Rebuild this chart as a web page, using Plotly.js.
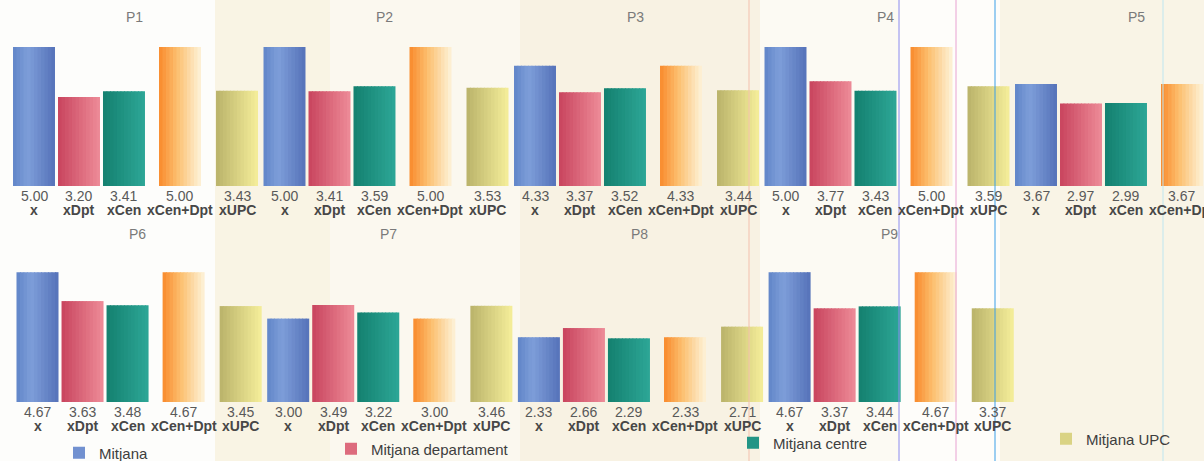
<!DOCTYPE html>
<html><head><meta charset="utf-8">
<script src="https://cdn.plot.ly/plotly-3.0.1.min.js"></script>
<style>html,body{margin:0;padding:0;background:#fbf9f2;overflow:hidden}</style>
</head><body><div id="chart" style="width:1204px;height:461px"></div>
<script>
// ---------- data ----------
const panels = ['P1','P2','P3','P4','P5','P6','P7','P8','P9'];
const barLabels = ['x','xDpt','xCen','xCen+Dpt','xUPC'];
const seriesNames = ['Mitjana','Mitjana departament','Mitjana centre','Mitjana centre+departament','Mitjana UPC'];
const mitjana       = [5.00,5.00,4.33,5.00,3.67,4.67,3.00,2.33,4.67];
const mitjanaDpt    = [3.20,3.41,3.37,3.77,2.97,3.63,3.49,2.66,3.37];
const mitjanaCen    = [3.41,3.59,3.52,3.43,2.99,3.48,3.22,2.29,3.44];
const mitjanaCenDpt = [5.00,5.00,4.33,5.00,3.67,4.67,3.00,2.33,4.67];
const mitjanaUPC    = [3.43,3.53,3.44,3.59,null,3.45,3.46,2.71,3.37];
const topRow = [0,1,2,3,4];
const bottomRow = [5,6,7,8];

// ---------- style / layout constants ----------
const series = [mitjana, mitjanaDpt, mitjanaCen, mitjanaCenDpt, mitjanaUPC];
const inLegend = ['legend','legend2','legend3',null,'legend4'];
const STOPS = [
  [[0,'#6085c8'],[0.35,'#7e9ed9'],[1,'#5572b9']],
  [[0,'#c8445e'],[1,'#ee8c98']],
  [[0,'#14806f'],[1,'#2da797']],
  [[0,'#f98a2c'],[0.45,'#fcc172'],[1,'#fdf3da']],
  [[0,'#b9b26a'],[1,'#f5ee9a']]
];
const PERIOD = 5;
const SLOT = [0, 0.898, 1.796, 2.914, 4.052];
const BARW = 0.838;
const NS = 12;
const FONT = 'Liberation Sans, Arial, sans-serif';

function hex2rgb(h){return [parseInt(h.slice(1,3),16),parseInt(h.slice(3,5),16),parseInt(h.slice(5,7),16)];}
function colorAt(stops,t){
  for(let i=0;i<stops.length-1;i++){
    const [t0,c0]=stops[i],[t1,c1]=stops[i+1];
    if(t>=t0&&t<=t1){
      const f=(t-t0)/(t1-t0||1),a=hex2rgb(c0),b=hex2rgb(c1);
      return 'rgb('+a.map((v,k)=>Math.round(v+(b[k]-v)*f)).join(',')+')';
    }
  }
  return stops[stops.length-1][1];
}

const traces=[];
const annotations=[];
const rows=[{idx:topRow,xa:'x',ya:'y'},{idx:bottomRow,xa:'x2',ya:'y2'}];

rows.forEach((row,ri)=>{
  series.forEach((vals,j)=>{
    const xs=[],ys=[];
    row.idx.forEach((p,k)=>{ if(vals[p]!=null){ xs.push(k*PERIOD+SLOT[j]); ys.push(vals[p]); } });
    for(let s=0;s<NS;s++){
      const t=(s+0.5)/NS;
      const w=BARW/NS;
      const showL = ri===0 && inLegend[j] && s===Math.floor(NS/2);
      traces.push({
        type:'bar', x:xs, y:ys, xaxis:row.xa, yaxis:row.ya,
        offset:-BARW/2+s*w, width: s<NS-1 ? w*1.25 : w,
        marker:{color:colorAt(STOPS[j],t), line:{width:0}},
        name:seriesNames[j], legendgroup:seriesNames[j],
        showlegend:!!showL, legend: inLegend[j]||'legend',
        hoverinfo:'skip'
      });
    }
    row.idx.forEach((p,k)=>{
      if(vals[p]==null) return;
      const xv=k*PERIOD+SLOT[j];
      annotations.push({x:xv,y:0,xref:row.xa,yref:row.ya,text:vals[p].toFixed(2),showarrow:false,
        yanchor:'top',yshift:0,font:{family:FONT,size:14,color:'#595959'}});
      annotations.push({x:xv,y:0,xref:row.xa,yref:row.ya,text:'<b>'+barLabels[j]+'</b>',showarrow:false,
        yanchor:'top',yshift:-14,font:{family:FONT,size:14,color:'#474747'}});
    });
  });
  row.idx.forEach((p,k)=>{
    annotations.push({x:k*PERIOD+2.0,xref:row.xa,y: ri===0 ? (461-17)/461 : (461-234)/461,yref:'paper',
      text:panels[p],showarrow:false,yanchor:'middle',font:{family:FONT,size:14,color:'#7a7a7a'}});
  });
});

// background paper tint bands and scan lines
const bands=[[0,215,'#fdfdfb'],[215,330,'#f9f4e4'],[330,520,'#fbf8ef'],[520,760,'#f8f2e3'],[760,900,'#fcfaf3'],[900,1000,'#fefdfa'],[1000,1204,'#f9f4e6']];
const shapes=bands.map(b=>({type:'rect',xref:'paper',yref:'paper',x0:b[0]/1204,x1:b[1]/1204,y0:0,y1:1,fillcolor:b[2],line:{width:0},layer:'below'}));
[[749,'#f3c0ad'],[899,'#8c8cf0'],[956,'#e8a2d2'],[995,'#3b9fe8'],[1163,'#bfe6f0']].forEach(l=>{
  shapes.push({type:'line',xref:'paper',yref:'paper',x0:l[0]/1204,x1:l[0]/1204,y0:0,y1:1,line:{color:l[1],width:1},layer:'above'});
});

const legFont={family:FONT,size:15,color:'#3e3e3e'};
const mkLeg=(px,py)=>({x:px/1204,y:(461-py)/461,xanchor:'left',yanchor:'middle',orientation:'h',bgcolor:'rgba(0,0,0,0)',font:legFont,itemwidth:30});

const layout={
  width:1204,height:461,margin:{l:0,r:0,t:0,b:0,autoexpand:false},
  paper_bgcolor:'#fbf9f2',plot_bgcolor:'rgba(0,0,0,0)',
  barmode:'overlay',
  xaxis:{domain:[0,1],range:[-34/50.1,(1204-34)/50.1],visible:false,fixedrange:true},
  yaxis:{domain:[(461-186)/461,(461-19.2)/461],range:[0,6],visible:false,fixedrange:true},
  xaxis2:{domain:[0,1],range:[-37.5/50.14,(1204-37.5)/50.14],visible:false,fixedrange:true,anchor:'y2'},
  yaxis2:{domain:[(461-402)/461,(461-235.2)/461],range:[0,6],visible:false,fixedrange:true,anchor:'x2'},
  showlegend:true,
  legend:mkLeg(59,453),
  legend2:mkLeg(331,449),
  legend3:mkLeg(733,443),
  legend4:mkLeg(1046,439),
  annotations:annotations,
  shapes:shapes
};
Plotly.newPlot('chart',traces,layout,{staticPlot:true,displayModeBar:false});
</script>
</body></html>
